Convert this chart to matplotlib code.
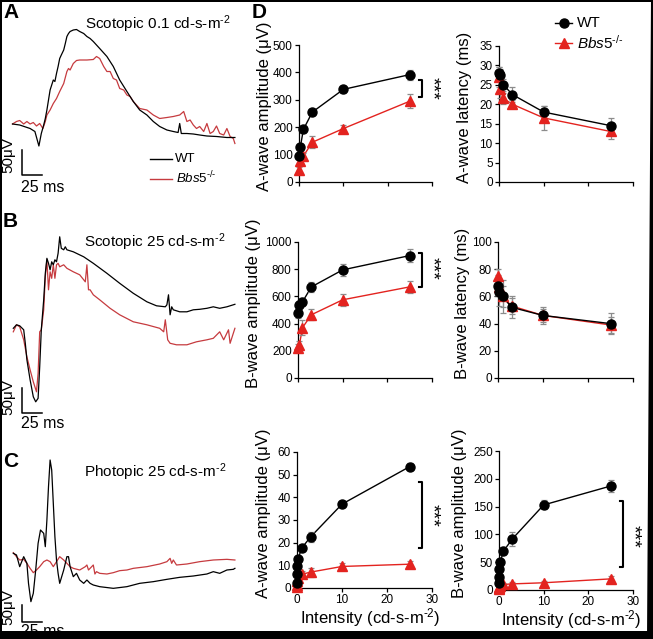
import matplotlib
matplotlib.use("Agg")
import matplotlib.pyplot as plt
from matplotlib.lines import Line2D
from matplotlib.patches import Polygon

plt.rcParams['font.family'] = ['Liberation Sans', 'DejaVu Sans']
plt.rcParams['mathtext.fontset'] = 'custom'
plt.rcParams['mathtext.rm'] = 'Liberation Sans'
plt.rcParams['mathtext.it'] = 'Liberation Sans:italic'

W, H = 653, 639
RED_TRACE = '#c63b3f'
RED = '#e3231f'
GRAY = '#8c8c8c'
KO = r'$\mathit{Bbs5}^{\text{-/-}}$'
UNIT = r'cd-s-m$^{\text{-2}}$'

# ---- ERG traces (time in ms, amplitude in uV) ----
a_wt_t = [-1, 8, 21, 27, 32, 35, 38, 40, 42, 44, 46, 48, 50, 52, 54, 56, 58, 60, 63, 65,
          67, 69, 71, 75, 79, 83, 88, 92, 96, 100, 104, 108, 117, 125, 133, 142, 150, 158, 167, 175,
          183, 192, 200, 206, 208, 210, 217, 225, 233, 242, 254, 267, 277]
a_wt_v = [2, 0, -7, -13, -42, -17, 0, 13, 30, 50, 70, 80, 90, 87, 103, 117, 133, 140, 150, 163,
          177, 183, 187, 190, 191, 187, 183, 177, 173, 167, 160, 153, 137, 117, 90, 67, 47, 30, 20, 7,
          -3, -10, -13, -15, 3, -17, -17, -18, -20, -22, -23, -25, -25]
a_ko_t = [-1, 4, 8, 13, 17, 21, 25, 29, 33, 37, 40, 42, 46, 50, 54, 58, 63, 67, 69, 71,
          75, 79, 83, 92, 100, 104, 108, 113, 117, 121, 125, 129, 133, 138, 142, 146, 150, 154, 158, 167,
          175, 183, 192, 200, 208, 213, 217, 221, 225, 229, 233, 238, 242, 246, 250, 254, 258, 263, 267, 271,
          275, 277]
a_ko_v = [2, 7, 9, 2, 7, 2, 5, -2, 3, -7, 7, 20, 30, 43, 53, 67, 83, 107, 113, 110,
          123, 129, 130, 130, 131, 137, 133, 117, 107, 107, 93, 90, 73, 70, 60, 57, 47, 40, 33, 30,
          20, 13, 15, 17, 20, 27, 7, 10, 0, -7, -3, -13, 3, -17, -13, -2, -17, -20, -7, -23,
          -27, -37]

b_wt_t = [0, 4, 8, 13, 15, 17, 21, 25, 28, 31, 33, 35, 38, 40, 42, 44, 46, 48, 50, 52,
          54, 56, 58, 60, 63, 65, 67, 75, 88, 100, 117, 133, 150, 167, 179, 190, 192, 194, 196, 198,
          200, 208, 217, 225, 233, 242, 250, 258, 267, 275, 277]
b_wt_v = [0, 7, 5, -3, -30, -63, -103, -137, -147, -140, -77, -3, 57, 110, 140, 130, 117, 133, 127, 137,
          133, 150, 183, 160, 157, 163, 157, 153, 143, 130, 110, 90, 70, 53, 45, 43, 47, 67, 27, 43,
          37, 33, 33, 37, 38, 40, 43, 40, 43, 47, 48]
b_ko_t = [0, 4, 8, 13, 17, 21, 25, 29, 31, 33, 35, 38, 40, 42, 44, 46, 48, 50, 52, 54,
          56, 58, 63, 67, 75, 83, 90, 92, 94, 96, 100, 108, 121, 133, 150, 167, 183, 188, 190, 193,
          196, 204, 217, 229, 242, 250, 258, 263, 269, 271, 277]
b_ko_v = [-7, 7, 3, -23, -57, -83, -107, -127, -90, -7, -3, 37, 103, 137, 77, 113, 100, 127, 100, 127,
          130, 123, 127, 120, 113, 107, 93, 127, 77, 77, 67, 57, 40, 27, 13, 7, 0, -7, 17, -23,
          -30, -33, -33, -27, -23, -20, -7, -23, -3, -30, 0]

c_wt_t = [0, 4, 8, 13, 17, 19, 22, 25, 28, 31, 34, 38, 40, 42, 44, 46, 48, 50, 52, 54,
          56, 58, 63, 67, 69, 71, 75, 79, 83, 88, 92, 96, 100, 108, 125, 142, 158, 175, 192, 208,
          225, 242, 250, 258, 267, 275, 277]
c_wt_v = [30, 25, -10, 20, 0, -60, -115, -90, -20, 60, 100, 90, 50, 130, 230, 310, 280, 180, 80, 10,
          -30, -60, -20, 20, 20, -10, -40, -30, -50, -60, -50, -60, -65, -70, -75, -70, -60, -55, -48, -42,
          -38, -32, -25, -30, -20, -18, -15]
c_ko_t = [0, 4, 8, 13, 17, 21, 25, 29, 33, 38, 42, 46, 50, 54, 58, 63, 67, 71, 75, 83,
          90, 92, 94, 96, 100, 102, 104, 108, 117, 125, 133, 142, 150, 167, 183, 192, 196, 198, 200, 204,
          217, 233, 250, 267, 277]
c_ko_v = [32, 20, 10, 12, 0, -15, -28, -20, -10, 5, 10, 5, -10, 5, 20, 10, 0, -10, -15, -20,
          -10, -5, -20, -15, -5, -32, -25, -30, -32, -28, -22, -20, -15, -10, -2, 5, 15, 0, 10, -5,
          -2, 5, 10, 12, 10]

# ---- panel D: intensity-response data ----
scot_int = [0.1, 0.3, 1, 3, 10, 25]
phot_int = [0.01, 0.03, 0.1, 0.3, 1, 3, 10, 25]

sa_amp_wt = [95, 128, 192, 255, 338, 392]
sa_amp_wt_err = [10, 12, 12, 10, 12, 18]
sa_amp_ko = [45, 75, 95, 145, 195, 295]
sa_amp_ko_err = [10, 10, 12, 22, 12, 25]
sa_lat_wt = [28, 27.5, 25, 22.5, 18, 14.5]
sa_lat_wt_err = [1.5, 1.5, 1.5, 2, 1.5, 2]
sa_lat_ko = [27, 24, 21.5, 20, 16.5, 13]
sa_lat_ko_err = [2.5, 2.5, 1.5, 1, 3, 2]
sb_amp_wt = [475, 535, 560, 670, 795, 900]
sb_amp_wt_err = [35, 30, 30, 35, 45, 45]
sb_amp_ko = [220, 240, 370, 465, 575, 670]
sb_amp_ko_err = [30, 35, 55, 40, 45, 45]
sb_lat_wt = [68, 63, 60, 52, 46, 40]
sb_lat_wt_err = [8, 10, 12, 8, 6, 8]
sb_lat_ko = [75, 67, 60, 53, 46, 39]
sb_lat_ko_err = [5, 6, 8, 6, 5, 6]
pa_amp_wt = [2, 6, 9.5, 13, 17.5, 22.5, 37, 53.5]
pa_amp_wt_err = [0.3, 0.5, 0.5, 0.8, 1, 2, 1, 1.5]
pa_amp_ko = [0.5, 1.5, 3, 4.5, 6, 7, 9.5, 10.5]
pa_amp_ko_err = [0.3, 0.5, 0.8, 1, 1.5, 2, 1.5, 1.5]
pb_amp_wt = [12, 24, 38, 51, 70, 92, 153, 187]
pb_amp_wt_err = [2, 3, 3, 5, 7, 13, 8, 10]
pb_amp_ko = [2, 4, 6, 8, 10, 11, 13, 20]
pb_amp_ko_err = [1, 1, 2, 2, 3, 3, 3, 6]


def fbox(l, t, r, b):
    return [l / W, 1 - b / H, (r - l) / W, (b - t) / H]


def ftxt(x, y, s, **kw):
    fig.text(x / W, 1 - y / H, s, **kw)


fig = plt.figure(figsize=(W / 100, H / 100), dpi=100)

# ---------------- traces A, B, C ----------------
traces = [
    (fbox(0.5, 25, 245.3, 180), (-110, 200), a_wt_t, a_wt_v, a_ko_t, a_ko_v, (-50, -100)),
    (fbox(0.5, 228.3, 245.3, 420.8), (-185, 200), b_wt_t, b_wt_v, b_ko_t, b_ko_v, (-120, -170)),
    (fbox(0.5, 455, 245.3, 630), (-200, 325), c_wt_t, c_wt_v, c_ko_t, c_ko_v, (-125, -175)),
]
for box, ylim, wt_t, wt_v, ko_t, ko_v, bar in traces:
    ax = fig.add_axes(box)
    ax.plot(ko_t, ko_v, color=RED_TRACE, lw=0.9)
    ax.plot(wt_t, wt_v, color='black', lw=0.9)
    # scale bar
    ax.plot([11, 11, 36], [bar[0], bar[1], bar[1]], color='black', lw=1.1)
    ax.set_xlim(-16, 290)
    ax.set_ylim(*ylim)
    ax.axis('off')

ftxt(158, 24, 'Scotopic 0.1 ' + UNIT, fontsize=11, ha='center', va='center')
ftxt(155, 242, 'Scotopic 25 ' + UNIT, fontsize=11, ha='center', va='center')
ftxt(155, 472, 'Photopic 25 ' + UNIT, fontsize=11, ha='center', va='center')
for yv, yt in [(155, 187), (397, 424), (607, 632)]:
    ftxt(8, yv, '50μV', fontsize=11, rotation=90, ha='center', va='center')
    ftxt(21, yt, '25 ms', fontsize=11.5, ha='left', va='center')

# legend of traces
fig.add_artist(Line2D([150 / W, 172 / W], [1 - 159 / H] * 2, color='black', lw=1))
fig.add_artist(Line2D([150 / W, 172 / W], [1 - 179 / H] * 2, color=RED_TRACE, lw=1))
ftxt(175, 159, 'WT', fontsize=9.5, va='center')
ftxt(176, 178, KO, fontsize=9.5, va='center')

for lab, x, y in [('A', 3, 3), ('B', 3, 212), ('C', 3, 452), ('D', 252, 3)]:
    ftxt(x, y, lab, fontsize=15, fontweight='bold', va='top', ha='left')

# ---------------- panel D ----------------
plots = [
    (fbox(299, 45, 432, 182), scot_int, sa_amp_wt, sa_amp_wt_err, sa_amp_ko, sa_amp_ko_err,
     500, 100, 'A-wave amplitude (μV)', -0.20, (372, 309), 343, False),
    (fbox(499, 46, 633, 182), scot_int, sa_lat_wt, sa_lat_wt_err, sa_lat_ko, sa_lat_ko_err,
     35, 5, 'A-wave latency (ms)', -0.20, None, None, False),
    (fbox(298, 242, 432, 378), scot_int, sb_amp_wt, sb_amp_wt_err, sb_amp_ko, sb_amp_ko_err,
     1000, 200, 'B-wave amplitude (μV)', -0.276, (920, 669), 809, False),
    (fbox(498, 242, 633, 378), scot_int, sb_lat_wt, sb_lat_wt_err, sb_lat_ko, sb_lat_ko_err,
     100, 20, 'B-wave latency (ms)', -0.207, None, None, False),
    (fbox(297, 452, 432, 588), phot_int, pa_amp_wt, pa_amp_wt_err, pa_amp_ko, pa_amp_ko_err,
     60, 10, 'A-wave amplitude (μV)', -0.19, (46.8, 17.6), 31.8, True),
    (fbox(499, 451, 633, 590), phot_int, pb_amp_wt, pb_amp_wt_err, pb_amp_ko, pb_amp_ko_err,
     250, 50, 'B-wave amplitude (μV)', -0.24, (160, 41), 97, True),
]

for box, xs, wt, wt_e, ko, ko_e, ymax, ystep, ylab, lx, bracket, stary, bottom in plots:
    ax = fig.add_axes(box)
    for y, e, col, mk, ms in [(ko, ko_e, RED, '^', 7), (wt, wt_e, 'black', 'o', 6.5)]:
        ax.plot(xs, y, color=col, lw=1, zorder=3, clip_on=False)
        eb = ax.errorbar(xs, y, yerr=e, fmt='none', ecolor=GRAY, elinewidth=0.9,
                         capsize=2, capthick=0.9, zorder=3.5)
        for art in list(eb.lines[1]) + list(eb.lines[2]):
            art.set_clip_on(False)
        ax.plot(xs, y, linestyle='none', marker=mk, ms=ms, color=col, zorder=4, clip_on=False)
    ax.set_xlim(0, 30)
    ax.set_ylim(0, ymax)
    ax.set_xticks([0, 10, 20, 30])
    ax.set_yticks(list(range(0, ymax + 1, ystep)))
    for s in ['top', 'right']:
        ax.spines[s].set_visible(False)
    for s in ['left', 'bottom']:
        ax.spines[s].set_linewidth(0.9)
    ax.tick_params(length=3, width=0.9, pad=1.5, labelsize=8.5)
    ax.set_ylabel(ylab, fontsize=12)
    ax.yaxis.set_label_coords(lx, 0.55)
    if bottom:
        ax.set_xlabel('Intensity (' + UNIT + ')', fontsize=12)
        ax.xaxis.set_label_coords(0.54, -0.13)
    else:
        ax.tick_params(axis='x', labelbottom=False)
    if bracket is not None:
        ax.plot([27.0, 27.8, 27.8, 27.0], [bracket[0], bracket[0], bracket[1], bracket[1]],
                color='black', lw=1.5, clip_on=False)
        ax.text(30.0, stary, '***', rotation=270, fontsize=14, ha='center', va='center',
                clip_on=False)

# legend of panel D
for yy, col, mk, lab in [(23, 'black', 'o', 'WT'), (43, RED, '^', KO)]:
    fig.add_artist(Line2D([555 / W, 572 / W], [1 - yy / H] * 2, color=col, lw=1))
    fig.add_artist(Line2D([563.5 / W], [1 - yy / H], color=col, marker=mk, ms=6.5,
                          linestyle='none'))
    ftxt(577, yy, lab, fontsize=11, va='center')

# frame around the figure
frame = [
    [(0, 0), (653, 0), (653, 2), (0, 2)],
    [(0, 0), (2, 0), (2, 639), (0, 639)],
    [(651, 0), (653, 0), (653, 639), (647, 639)],
    [(0, 631), (653, 631), (653, 639), (0, 639)],
]
for pts in frame:
    fig.add_artist(Polygon([(x / W, 1 - y / H) for x, y in pts], closed=True,
                           facecolor='black', edgecolor='none', zorder=10))

fig.savefig('out.png', dpi=100)
